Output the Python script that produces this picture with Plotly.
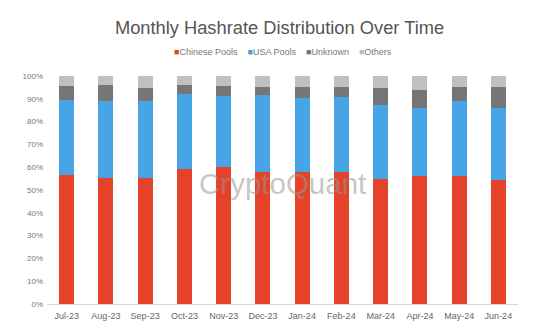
import plotly.graph_objects as go

months = ["Jul-23", "Aug-23", "Sep-23", "Oct-23", "Nov-23", "Dec-23",
          "Jan-24", "Feb-24", "Mar-24", "Apr-24", "May-24", "Jun-24"]
chinese = [56.4, 55.2, 55.2, 59.3, 60.3, 57.8, 57.8, 57.8, 54.9, 56.1, 56.1, 54.3]
usa = [32.9, 33.7, 33.9, 32.7, 31.1, 33.9, 32.6, 33.0, 32.5, 30.0, 33.0, 31.8]
unknown = [6.3, 7.0, 5.8, 4.2, 4.4, 3.5, 4.8, 4.4, 7.3, 7.9, 6.1, 9.1]
others = [4.4, 4.1, 5.1, 3.8, 4.2, 4.8, 4.8, 4.8, 5.3, 6.0, 4.8, 4.8]

series = [
    ("Chinese Pools", chinese, "#e4432a"),
    ("USA Pools", usa, "#47a4e6"),
    ("Unknown", unknown, "#767676"),
    ("Others", others, "#c0c0c0"),
]

FONT = "Liberation Sans, Arial, sans-serif"

fig = go.Figure()
for name, vals, color in series:
    fig.add_trace(go.Bar(x=months, y=[v / 100 for v in vals], name=name,
                         marker=dict(color=color, line=dict(width=0))))

legend_text = "&nbsp;&nbsp;&nbsp;&nbsp;".join(
    f"<span style='color:{c}'>■</span>{n}" for n, _, c in series)

fig.update_layout(
    barmode="stack",
    bargap=0.62,
    width=559, height=328,
    margin=dict(l=47, r=41, t=76, b=24, autoexpand=False),
    paper_bgcolor="white", plot_bgcolor="white",
    font=dict(family=FONT, color="#666"),
    title=dict(text="Monthly Hashrate Distribution Over Time", x=0.5, xanchor="center",
               y=0.915, yanchor="middle", automargin=False,
               font=dict(size=18.3, color="#555", family=FONT)),
    showlegend=False,
    xaxis=dict(showline=True, linecolor="#d9d9d9", linewidth=1, ticks="",
               tickfont=dict(size=9, color="#666"), showgrid=False,
               ticklabelstandoff=3, automargin=False),
    yaxis=dict(range=[0, 1], tickformat=".0%", dtick=0.1, showgrid=False,
               zeroline=False, ticks="", tickfont=dict(size=8, color="#777"),
               ticklabelstandoff=3, automargin=False),
    annotations=[
        dict(text=legend_text, x=0.5, y=1.105, xref="paper", yref="paper",
             xanchor="center", yanchor="middle", showarrow=False,
             font=dict(size=9, color="#777", family=FONT)),
        dict(text="CryptoQuant", x=0.5, y=0.53, xref="paper", yref="paper",
             showarrow=False,
             font=dict(size=29.5, color="rgba(150,150,150,0.55)", family=FONT)),
    ],
)

fig.write_html("out.html")
